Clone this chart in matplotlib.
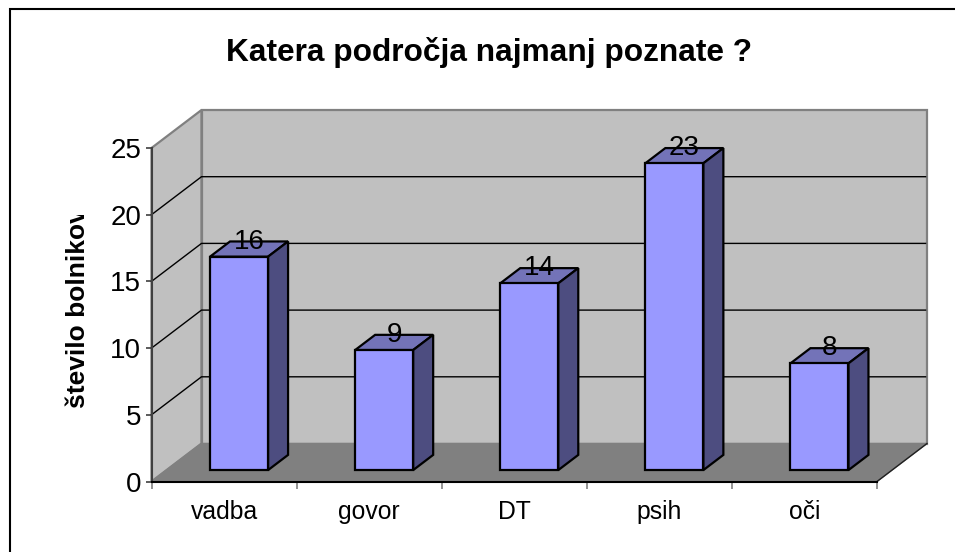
import matplotlib
matplotlib.use('Agg')
import matplotlib.pyplot as plt
from matplotlib.lines import Line2D
from matplotlib.patches import Polygon
from matplotlib.transforms import Bbox

plt.rcParams['font.family'] = ['Liberation Sans', 'DejaVu Sans']

categories = ['vadba', 'govor', 'DT', 'psih', 'oči']
values = [16, 9, 14, 23, 8]
y_ticks = [0, 5, 10, 15, 20, 25]
title = 'Katera področja najmanj poznate ?'
y_label = 'število bolnikov'

W, H = 955, 552
# front plane of the fake 3d box, in pixels
LEFT, RIGHT, TOP, BOTTOM = 151.5, 877, 148, 481.5
# depth of the box, converted to data units
DX = 50 / ((RIGHT - LEFT) / len(categories))
DY = 38 / ((BOTTOM - TOP) / 25)
BAR_W = 0.4


def depth(x, y, d):
    return (x + d * DX, y + d * DY)


def poly(ax, pts, **kw):
    ax.add_patch(Polygon(pts, closed=True, clip_on=False, **kw))


fig = plt.figure(figsize=(W / 100, H / 100), dpi=100)
# only the top and left of the chart frame are inside the picture
fig.add_artist(Line2D([9.5 / W, 9.5 / W, 1], [0, 1 - 8.5 / H, 1 - 8.5 / H], transform=fig.transFigure,
                      color='black', linewidth=1.5, solid_joinstyle='miter'))

ax = fig.add_axes([LEFT / W, 1 - BOTTOM / H, (RIGHT - LEFT) / W, (BOTTOM - TOP) / H])
ax.set_xlim(0, len(categories))
ax.set_ylim(0, 25)
ax.patch.set_visible(False)
n = len(categories)

# walls and floor
wall = dict(facecolor='#c0c0c0', edgecolor='#808080', linewidth=1.6, joinstyle='miter')
poly(ax, [(0, 0), depth(0, 0, 1), depth(0, 25, 1), (0, 25)], **wall)
poly(ax, [depth(0, 0, 1), depth(n, 0, 1), depth(n, 25, 1), depth(0, 25, 1)], **wall)
poly(ax, [(0, 0), (n, 0), depth(n, 0, 1), depth(0, 0, 1)], facecolor='#808080', edgecolor='#808080', linewidth=1)
ax.plot(*zip((n, 0), depth(n, 0, 1)), color='#202020', linewidth=1, clip_on=False, zorder=2)

# gridlines
for t in y_ticks[1:-1]:
    ax.plot(*zip((0, t), depth(0, t, 1), depth(n - 0.01, t, 1)), color='black', linewidth=1, clip_on=False, zorder=2)

# bars
for i, v in enumerate(values):
    x0 = i + 0.5 - BAR_W / 2
    x1 = x0 + BAR_W
    edge = dict(edgecolor='black', linewidth=1.6, joinstyle='miter', zorder=3)
    poly(ax, [depth(x0, v, 0.3), depth(x1, v, 0.3), depth(x1, v, 0.7), depth(x0, v, 0.7)], facecolor='#7373b8', **edge)
    poly(ax, [depth(x1, 0, 0.3), depth(x1, 0, 0.7), depth(x1, v, 0.7), depth(x1, v, 0.3)], facecolor='#4d4d80', **edge)
    poly(ax, [depth(x0, 0, 0.3), depth(x1, 0, 0.3), depth(x1, v, 0.3), depth(x0, v, 0.3)], facecolor='#9999ff', **edge)
    lx, ly = depth(i + 0.5, v, 0.5)
    ax.text(lx, ly + 0.55, str(v), ha='center', va='center', fontsize=20, color='black', zorder=4)

for s in ['top', 'right']:
    ax.spines[s].set_visible(False)
ax.spines['left'].set_color('#404040')
ax.spines['left'].set_linewidth(1.5)
ax.spines['bottom'].set_color('black')
ax.spines['bottom'].set_linewidth(1.5)
ax.set_zorder(2)

ax.set_yticks(y_ticks)
ax.set_xticks(range(n + 1))
ax.set_xticklabels([])
ax.tick_params(axis='y', length=4.5, width=1.2, color='#404040', labelsize=20, pad=3)
ax.tick_params(axis='x', length=5, width=1.2, color='#808080')
for i, c in enumerate(categories):
    ax.text(i + 0.5, -2.25, c, ha='center', va='center', fontsize=17.8)

fig.text(489 / W, 1 - 52 / H, title, ha='center', va='center', fontsize=22.8, fontweight='bold')
# the axis title runs out of its box in the original, so the last letter is cut
lab = fig.text(78 / W, 1 - 308 / H, y_label, ha='center', va='center', rotation=90, fontsize=19, fontweight='bold')
lab.set_clip_box(Bbox([[0, 0], [W, H - 215]]))
lab.set_clip_on(True)

fig.savefig('out.png', dpi=100)
